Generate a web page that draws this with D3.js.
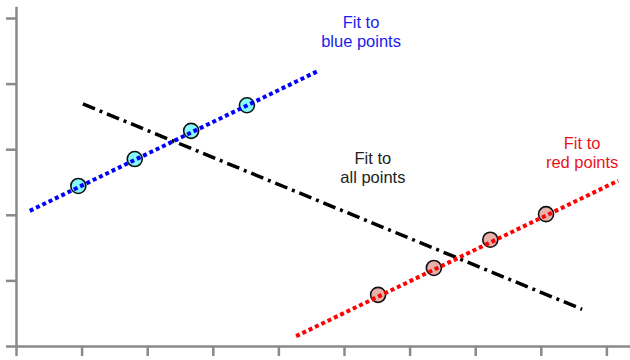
<!DOCTYPE html>
<html>
<head>
<meta charset="utf-8">
<script src="https://cdn.jsdelivr.net/npm/d3@7"></script>
<style>
  body { margin: 0; background: #fff; }
  text { font-family: "Liberation Sans", Arial, sans-serif; }
</style>
</head>
<body>
<div id="chart"></div>
<script>
// data, in axis units
var blueX = [0.95, 1.81, 2.67, 3.52];
var blueY = [2.44, 2.85, 3.28, 3.67];
var redX = [5.52, 6.37, 7.23, 8.08];
var redY = [0.78, 1.19, 1.62, 2.01];

// fitted lines (start, end) as drawn
var blueFitX = [0.21, 4.60], blueFitY = [2.06, 4.19];
var redFitX = [4.27, 9.18], redFitY = [0.15, 2.52];
var allFitX = [1.02, 8.63], allFitY = [3.69, 0.56];

var xTicks = [0, 1, 2, 3, 4, 5, 6, 7, 8, 9];
var yTicks = [0, 1, 2, 3, 4, 5];

var labels = [
  { x: 5.26, y: 4.85, lines: ["Fit to", "blue points"], color: "#1c1cf0" },
  { x: 5.44, y: 2.78, lines: ["Fit to", "all points"], color: "#222" },
  { x: 8.63, y: 3.00, lines: ["Fit to", "red points"], color: "#e8141c" }
];

var svgWidth = 630, svgHeight = 360;
var ox = 16, oy = 346, unit = 65.6;

var svg = d3.select("#chart")
  .append("svg")
  .attr("width", svgWidth)
  .attr("height", svgHeight);

var x = d3.scaleLinear().domain([0, 9.36]).range([ox, ox + 9.36 * unit]);
var y = d3.scaleLinear().domain([0, 5.18]).range([oy, oy - 5.18 * unit]);

// axes
svg.append("g")
  .attr("transform", "translate(0," + oy + ")")
  .call(d3.axisBottom(x).tickValues(xTicks).tickSize(10).tickSizeOuter(0).tickFormat(""));

svg.append("g")
  .attr("transform", "translate(" + ox + ",0)")
  .call(d3.axisLeft(y).tickValues(yTicks).tickSize(10).tickSizeOuter(0).tickFormat(""));

svg.selectAll(".domain, .tick line")
  .attr("stroke", "#8a8a8a")
  .attr("stroke-width", 2.5);

// points
function drawPoints(xs, ys, fill) {
  svg.append("g").selectAll("circle")
    .data(xs)
    .enter().append("circle")
    .attr("cx", function(d) { return x(d); })
    .attr("cy", function(d, i) { return y(ys[i]); })
    .attr("r", 7.5)
    .attr("fill", fill)
    .attr("stroke", "#111")
    .attr("stroke-width", 1.6);
}
drawPoints(blueX, blueY, "#84fafa");
drawPoints(redX, redY, "#e8b2aa");

// fit lines
var line = d3.line()
  .x(function(d) { return x(d[0]); })
  .y(function(d) { return y(d[1]); });

function drawFit(xs, ys, color, width, dash) {
  svg.append("path")
    .datum(d3.zip(xs, ys))
    .attr("d", line)
    .attr("fill", "none")
    .attr("stroke", color)
    .attr("stroke-width", width)
    .attr("stroke-dasharray", dash);
}
drawFit(allFitX, allFitY, "#000", 3.5, "13,5,3,5");
drawFit(blueFitX, blueFitY, "#0000ff", 4, "4,3");
drawFit(redFitX, redFitY, "#ff0000", 4, "4,3");

// labels
labels.forEach(function(l) {
  var t = svg.append("text")
    .attr("x", x(l.x))
    .attr("y", y(l.y))
    .attr("text-anchor", "middle")
    .attr("fill", l.color)
    .style("font-size", "16.5px");
  l.lines.forEach(function(s, i) {
    t.append("tspan")
      .attr("x", x(l.x))
      .attr("dy", i === 0 ? 0 : 19)
      .text(s);
  });
});
</script>
</body>
</html>
